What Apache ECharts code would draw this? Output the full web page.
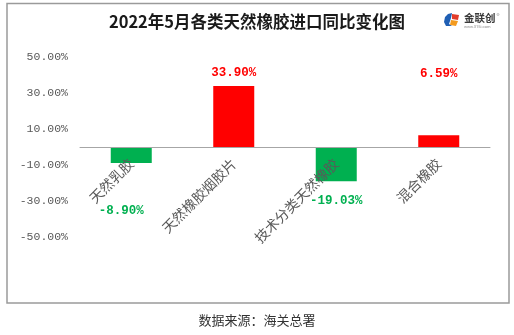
<!DOCTYPE html>
<html>
<head>
<meta charset="utf-8">
<style>
  html, body { margin: 0; padding: 0; background: #fff; }
  #chart { width: 514px; height: 335px; }
</style>
<script src="https://cdn.jsdelivr.net/npm/echarts@6/dist/echarts.min.js"></script>
</head>
<body>
<div id="chart"></div>
<script>
// 2022年5月各类天然橡胶进口同比变化 (%)
const categories = ['天然乳胶', '天然橡胶烟胶片', '技术分类天然橡胶', '混合橡胶'];
const yoyChange = [-8.90, 33.90, -19.03, 6.59];
const yTicks = { min: -50, max: 50, interval: 20 };

const RED = '#FF0000';
const GREEN = '#00B050';
const NUM_FONT = '"Liberation Mono", "DejaVu Sans Mono", monospace';
const CJK_FONT = '"Noto Sans CJK SC", sans-serif';

const GRID_TOP = 57;
const GRID_BOTTOM = 98;
const PLOT_H = 335 - GRID_TOP - GRID_BOTTOM;
// shift the category axis up from the grid bottom onto the zero value
const zeroShift = PLOT_H * (0 - yTicks.min) / (yTicks.max - yTicks.min);

// hand-placed label offsets for each bar, [dx, dy]
const labelOffsets = [[-10, 34], [0, 0], [0, 6], [0, -48]];

const chart = echarts.init(document.getElementById('chart'), null, { renderer: 'canvas' });

const barData = yoyChange.map((v, i) => {
  const color = v >= 0 ? RED : GREEN;
  return {
    value: v,
    itemStyle: { color: color },
    label: {
      position: v >= 0 ? 'top' : 'bottom',
      offset: labelOffsets[i],
      color: color
    }
  };
});

chart.setOption({
  animation: false,
  title: {
    text: '2022年5月各类天然橡胶进口同比变化图',
    left: 'center',
    top: 8,
    textStyle: { fontFamily: CJK_FONT, fontSize: 16.5, fontWeight: 'bold', color: '#1a1a1a' }
  },
  grid: { left: 80, right: 24, top: GRID_TOP, bottom: GRID_BOTTOM, containLabel: false },
  xAxis: {
    type: 'category',
    data: categories,
    offset: -zeroShift,
    z: 5,
    axisLine: { onZero: false, lineStyle: { color: '#a6a6a6', width: 1 } },
    axisTick: { show: false },
    axisLabel: {
      rotate: 45,
      margin: 14,
      interval: 0,
      color: '#595959',
      fontFamily: CJK_FONT,
      fontSize: 14
    },
    splitLine: { show: false }
  },
  yAxis: {
    type: 'value',
    min: yTicks.min,
    max: yTicks.max,
    interval: yTicks.interval,
    axisLine: { show: false },
    axisTick: { show: false },
    splitLine: { show: false },
    axisLabel: {
      margin: 12,
      color: '#595959',
      fontFamily: NUM_FONT,
      fontSize: 11.5,
      formatter: v => v.toFixed(2) + '%'
    }
  },
  series: [{
    type: 'bar',
    data: barData,
    barWidth: '40%',
    label: {
      show: true,
      distance: 7,
      fontFamily: NUM_FONT,
      fontWeight: 'bold',
      fontSize: 12.5,
      formatter: p => p.value.toFixed(2) + '%'
    }
  }],
  graphic: [
    // outer frame
    {
      type: 'rect',
      shape: { x: 7, y: 3.5, width: 502, height: 299.5 },
      style: { fill: 'none', stroke: '#9a9a9a', lineWidth: 1.5 },
      z: 10
    },
    // source note
    {
      type: 'text',
      left: 'center',
      top: 314,
      style: { text: '数据来源：海关总署', fontFamily: CJK_FONT, fontSize: 13, fill: '#333333' }
    },
    // brand mark
    {
      type: 'group',
      left: 444,
      top: 11,
      children: [
        { type: 'polygon', shape: { points: [[4, 1], [8, 0], [7, 5], [5, 11], [8, 13], [2, 13], [0, 9], [1, 4]] }, style: { fill: '#1f5fb4' } },
        { type: 'polygon', shape: { points: [[8, 1], [15, 2], [14, 7], [8, 6]] }, style: { fill: '#e23c2a' } },
        { type: 'polygon', shape: { points: [[7, 7], [14, 8], [12, 13], [6, 12]] }, style: { fill: '#f39a1e' } },
        { type: 'text', x: 20, y: 0, style: { text: '金联创', fontFamily: CJK_FONT, fontSize: 10.5, fontWeight: 'bold', fill: '#3a3a3a' } },
        { type: 'text', x: 20, y: 12, style: { text: 'www.315i.com', fontFamily: 'Roboto, sans-serif', fontSize: 4, fill: '#888888' } },
        { type: 'circle', shape: { cx: 54, cy: 1.5, r: 1 }, style: { fill: 'none', stroke: '#888', lineWidth: 0.5 } }
      ]
    }
  ]
});
</script>
</body>
</html>
